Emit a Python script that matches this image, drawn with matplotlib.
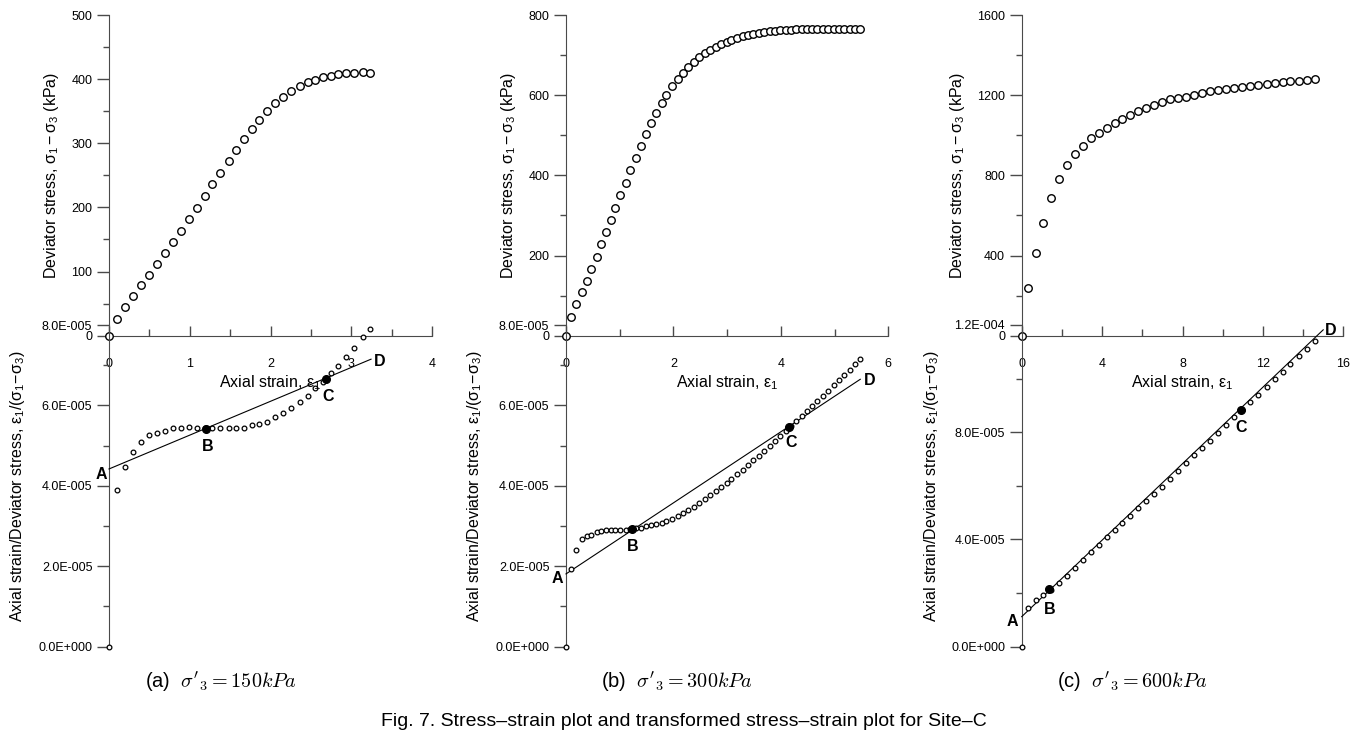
import numpy as np
import matplotlib
matplotlib.use('Agg')
import matplotlib.pyplot as plt
from matplotlib.ticker import MultipleLocator, FuncFormatter

plt.rcParams['font.family'] = ['Liberation Sans', 'DejaVu Sans']
plt.rcParams['mathtext.fontset'] = 'custom'
plt.rcParams['mathtext.rm'] = 'Liberation Sans'
plt.rcParams['mathtext.it'] = 'Liberation Sans'
plt.rcParams['mathtext.bf'] = 'Liberation Sans:bold'

# ---- data (strain in %, stress in kPa) ----
strain_a = [0, 0.10, 0.20, 0.30, 0.40, 0.50, 0.59, 0.69, 0.79, 0.89, 0.99, 1.09, 1.19, 1.28, 1.38,
            1.48, 1.57, 1.67, 1.77, 1.86, 1.96, 2.06, 2.16, 2.26, 2.36, 2.46, 2.55, 2.65, 2.75,
            2.84, 2.94, 3.04, 3.15, 3.23]
stress_a = [0, 25.5, 45.2, 61.9, 78.5, 95.1, 111.2, 128.9, 146.1, 163.7, 181.4, 199.6, 218.3, 236.5,
            254.2, 271.9, 289.5, 306.7, 322.3, 336.8, 350.9, 362.3, 372.7, 381.5, 388.8, 395.0,
            399.2, 402.8, 404.9, 408.0, 409.1, 409.6, 410.6, 410.1]
ratio_a = [0, 3.90, 4.47, 4.85, 5.10, 5.26, 5.31, 5.37, 5.43, 5.45, 5.46, 5.45, 5.43, 5.43, 5.43,
           5.45, 5.44, 5.45, 5.51, 5.53, 5.60, 5.70, 5.80, 5.94, 6.08, 6.24, 6.44, 6.59, 6.80,
           6.98, 7.21, 7.44, 7.69, 7.89]  # x 1e-5

strain_b = [0, 0.09, 0.19, 0.29, 0.39, 0.47, 0.57, 0.65, 0.75, 0.84, 0.92, 1.01, 1.11, 1.20, 1.30,
            1.39, 1.49, 1.59, 1.68, 1.78, 1.87, 1.98, 2.08, 2.18, 2.28, 2.38, 2.48, 2.59, 2.69,
            2.79, 2.89, 2.99, 3.08, 3.18, 3.29, 3.39, 3.49, 3.59, 3.69, 3.79, 3.89, 3.99, 4.09,
            4.19, 4.29, 4.39, 4.49, 4.58, 4.68, 4.78, 4.88, 4.98, 5.08, 5.18, 5.28, 5.38, 5.48]
stress_b = [0, 47.4, 79.0, 108.1, 137.2, 167.2, 197.1, 227.9, 257.8, 289.4, 319.3, 350.9, 381.7,
            412.5, 443.2, 473.2, 502.3, 529.7, 555.5, 579.6, 600.4, 622.0, 640.3, 656.1, 671.1,
            682.7, 694.4, 704.4, 712.7, 720.2, 727.6, 732.6, 738.5, 742.6, 747.6, 750.9, 753.4,
            755.9, 758.4, 759.2, 760.9, 761.7, 762.6, 763.4, 764.2, 764.2, 765.1, 765.1, 765.9,
            765.9, 765.9, 765.9, 765.9, 765.9, 765.9, 765.9, 765.9]
ratio_b = [0, 1.92, 2.40, 2.68, 2.76, 2.77, 2.85, 2.87, 2.91, 2.91, 2.91, 2.89, 2.91, 2.92, 2.94,
           2.96, 2.99, 3.02, 3.04, 3.08, 3.12, 3.18, 3.25, 3.33, 3.39, 3.48, 3.57, 3.67, 3.77,
           3.87, 3.97, 4.08, 4.17, 4.29, 4.40, 4.52, 4.64, 4.75, 4.87, 4.99, 5.11, 5.24, 5.36,
           5.48, 5.61, 5.74, 5.86, 5.99, 6.12, 6.24, 6.37, 6.50, 6.63, 6.76, 6.89, 7.02, 7.15]

strain_c = [0, 0.32, 0.71, 1.08, 1.46, 1.86, 2.26, 2.67, 3.07, 3.47, 3.86, 4.26, 4.63, 4.99, 5.39,
            5.80, 6.19, 6.57, 6.96, 7.38, 7.78, 8.17, 8.57, 8.99, 9.37, 9.77, 10.16, 10.56, 10.96,
            11.38, 11.77, 12.19, 12.59, 12.98, 13.36, 13.78, 14.18, 14.59]
stress_c = [0, 239.5, 414.1, 563.8, 688.6, 783.4, 853.2, 908.1, 948.0, 984.6, 1012.9, 1037.8,
            1061.1, 1082.7, 1101.0, 1121.0, 1134.3, 1150.9, 1167.6, 1179.2, 1187.5, 1192.5,
            1200.8, 1210.8, 1220.8, 1225.8, 1230.8, 1235.8, 1242.4, 1247.4, 1252.4, 1257.4,
            1260.7, 1265.7, 1269.0, 1272.3, 1275.7, 1279.0]
ratio_c = [0, 1.45, 1.76, 1.93, 2.12, 2.37, 2.64, 2.94, 3.24, 3.52, 3.81, 4.11, 4.36, 4.61, 4.89,
           5.18, 5.45, 5.71, 5.96, 6.26, 6.55, 6.85, 7.14, 7.42, 7.67, 7.97, 8.26, 8.55, 8.82,
           9.12, 9.40, 9.69, 9.98, 10.26, 10.53, 10.83, 11.11, 11.41]

# fitted line A-D and points B, C (strain, ratio x 1e-5)
line_a = ([0, 3.245], [4.42, 7.15])
line_b = ([0, 5.478], [1.81, 6.65])
line_c = ([0, 15.0], [1.12, 11.82])
bc_a = ([1.205, 2.683], [5.42, 6.65])
bc_b = ([1.228, 4.144], [2.93, 5.47])
bc_c = ([1.376, 10.9], [2.14, 8.82])

captions = ["(a)", "(b)", "(c)"]
confining = ["150", "300", "600"]

W, H = 1369, 741
fig = plt.figure(figsize=(W / 100, H / 100), dpi=100)


def px_axes(x0, x1, ytop, ybot):
    return fig.add_axes([x0 / W, (H - ybot) / H, (x1 - x0) / W, (ybot - ytop) / H])


def ftext(x, y, s, **kw):
    return fig.text(x / W, 1 - y / H, s, **kw)


def e_fmt(v, pos):
    if abs(v) < 1e-12:
        return '0.0E+000'
    ex = int(np.floor(np.log10(abs(v)) + 1e-9))
    m = v / 10 ** ex
    return f"{m:.1f}E{'+' if ex >= 0 else '-'}{abs(ex):03d}"


spine_col = '#4a4a4a'
panels = [
    dict(x0=109, x1=432, xmax=4, xmaj=1, xmin=0.5, smax=500, smaj=100, smin=50,
         rmax=8e-5, rmaj=2e-5, rmin=1e-5, strain=strain_a, stress=stress_a, ratio=ratio_a,
         line=line_a, bc=bc_a, ylab1=52, ylab2=18,
         letters=[(-0.09, 4.27), (1.226, 4.97), (2.712, 6.21), (3.356, 7.08)]),
    dict(x0=566, x1=888.3, xmax=6, xmaj=2, xmin=1, smax=800, smaj=200, smin=100,
         rmax=8e-5, rmaj=2e-5, rmin=1e-5, strain=strain_b, stress=stress_b, ratio=ratio_b,
         line=line_b, bc=bc_b, ylab1=508, ylab2=475,
         letters=[(-0.155, 1.70), (1.247, 2.48), (4.183, 5.07), (5.646, 6.63)]),
    dict(x0=1021.7, x1=1343.3, xmax=16, xmaj=4, xmin=2, smax=1600, smaj=400, smin=200,
         rmax=12e-5, rmaj=4e-5, rmin=2e-5, strain=strain_c, stress=stress_c, ratio=ratio_c,
         line=line_c, bc=bc_c, ylab1=957, ylab2=931,
         letters=[(-0.47, 0.93), (1.408, 1.37), (10.91, 8.18), (15.37, 11.79)]),
]

for i, p in enumerate(panels):
    ax1 = px_axes(p['x0'], p['x1'], 15, 335.7)
    ax2 = px_axes(p['x0'], p['x1'], 325, 646.7)
    for ax in (ax1, ax2):
        ax.patch.set_visible(False)
        ax.spines['top'].set_visible(False)
        ax.spines['right'].set_visible(False)
        ax.spines['left'].set_color(spine_col)
        ax.spines['bottom'].set_color(spine_col)
        ax.set_xlim(0, p['xmax'])
        ax.tick_params(axis='y', which='major', direction='out', length=9, width=1,
                       color=spine_col, labelsize=9, pad=3)
        ax.tick_params(axis='y', which='minor', direction='out', length=4.5, width=1,
                       color=spine_col)

    # stress-strain (upper)
    ax1.set_ylim(0, p['smax'])
    ax1.yaxis.set_major_locator(MultipleLocator(p['smaj']))
    ax1.yaxis.set_minor_locator(MultipleLocator(p['smin']))
    ax1.xaxis.set_major_locator(MultipleLocator(p['xmaj']))
    ax1.xaxis.set_minor_locator(MultipleLocator(p['xmin']))
    ax1.tick_params(axis='x', which='major', direction='in', length=7, width=1,
                    color=spine_col, labelsize=9, pad=16)
    ax1.tick_params(axis='x', which='minor', direction='in', length=5, width=1, color=spine_col)
    ax1.plot(p['strain'], p['stress'], 'o', ms=5.4, mfc='white', mec='black', mew=1,
             clip_on=False, zorder=5)

    # transformed plot (lower)
    ax2.spines['bottom'].set_visible(False)
    ax2.tick_params(axis='x', which='both', bottom=False, labelbottom=False)
    ax2.set_ylim(0, p['rmax'])
    ax2.yaxis.set_major_locator(MultipleLocator(p['rmaj']))
    ax2.yaxis.set_minor_locator(MultipleLocator(p['rmin']))
    ax2.yaxis.set_major_formatter(FuncFormatter(e_fmt))
    lx, ly = p['line']
    ax2.plot(lx, np.array(ly) * 1e-5, '-', color='black', lw=0.8, clip_on=False, zorder=3)
    ax2.plot(p['strain'], np.array(p['ratio']) * 1e-5, 'o', ms=3.4, mfc='white', mec='black',
             mew=0.9, clip_on=False, zorder=4)
    bx, by = p['bc']
    ax2.plot(bx, np.array(by) * 1e-5, 'o', ms=5.5, color='black', clip_on=False, zorder=6)
    for (tx, ty), s in zip(p['letters'], 'ABCD'):
        ax2.text(tx, ty * 1e-5, s, fontsize=11.5, fontweight='bold', ha='center', va='center',
                 zorder=7)

    xc = (p['x0'] + p['x1']) / 2
    ftext(xc, 382.7, r'Axial strain, $\varepsilon_1$', fontsize=11.5, ha='center', va='center')
    ftext(p['ylab1'], 175, r'Deviator stress, $\sigma_1 - \sigma_3$ (kPa)', fontsize=11.5,
          rotation=90, ha='center', va='center')
    ftext(p['ylab2'], 486, r'Axial strain/Deviator stress, $\varepsilon_1/(\sigma_1\!-\!\sigma_3)$',
          fontsize=11.5, rotation=90, ha='center', va='center')
    ftext(xc - 50, 682, captions[i] + "  " + r"$\sigma'_{3} = " + confining[i] + r"kPa$",
          fontsize=14.5, ha='center', va='center', math_fontfamily='cm')

ftext(684, 722, 'Fig. 7. Stress\u2013strain plot and transformed stress\u2013strain plot for Site\u2013C',
      fontsize=14, ha='center', va='center')

fig.savefig('out.png', dpi=100)
